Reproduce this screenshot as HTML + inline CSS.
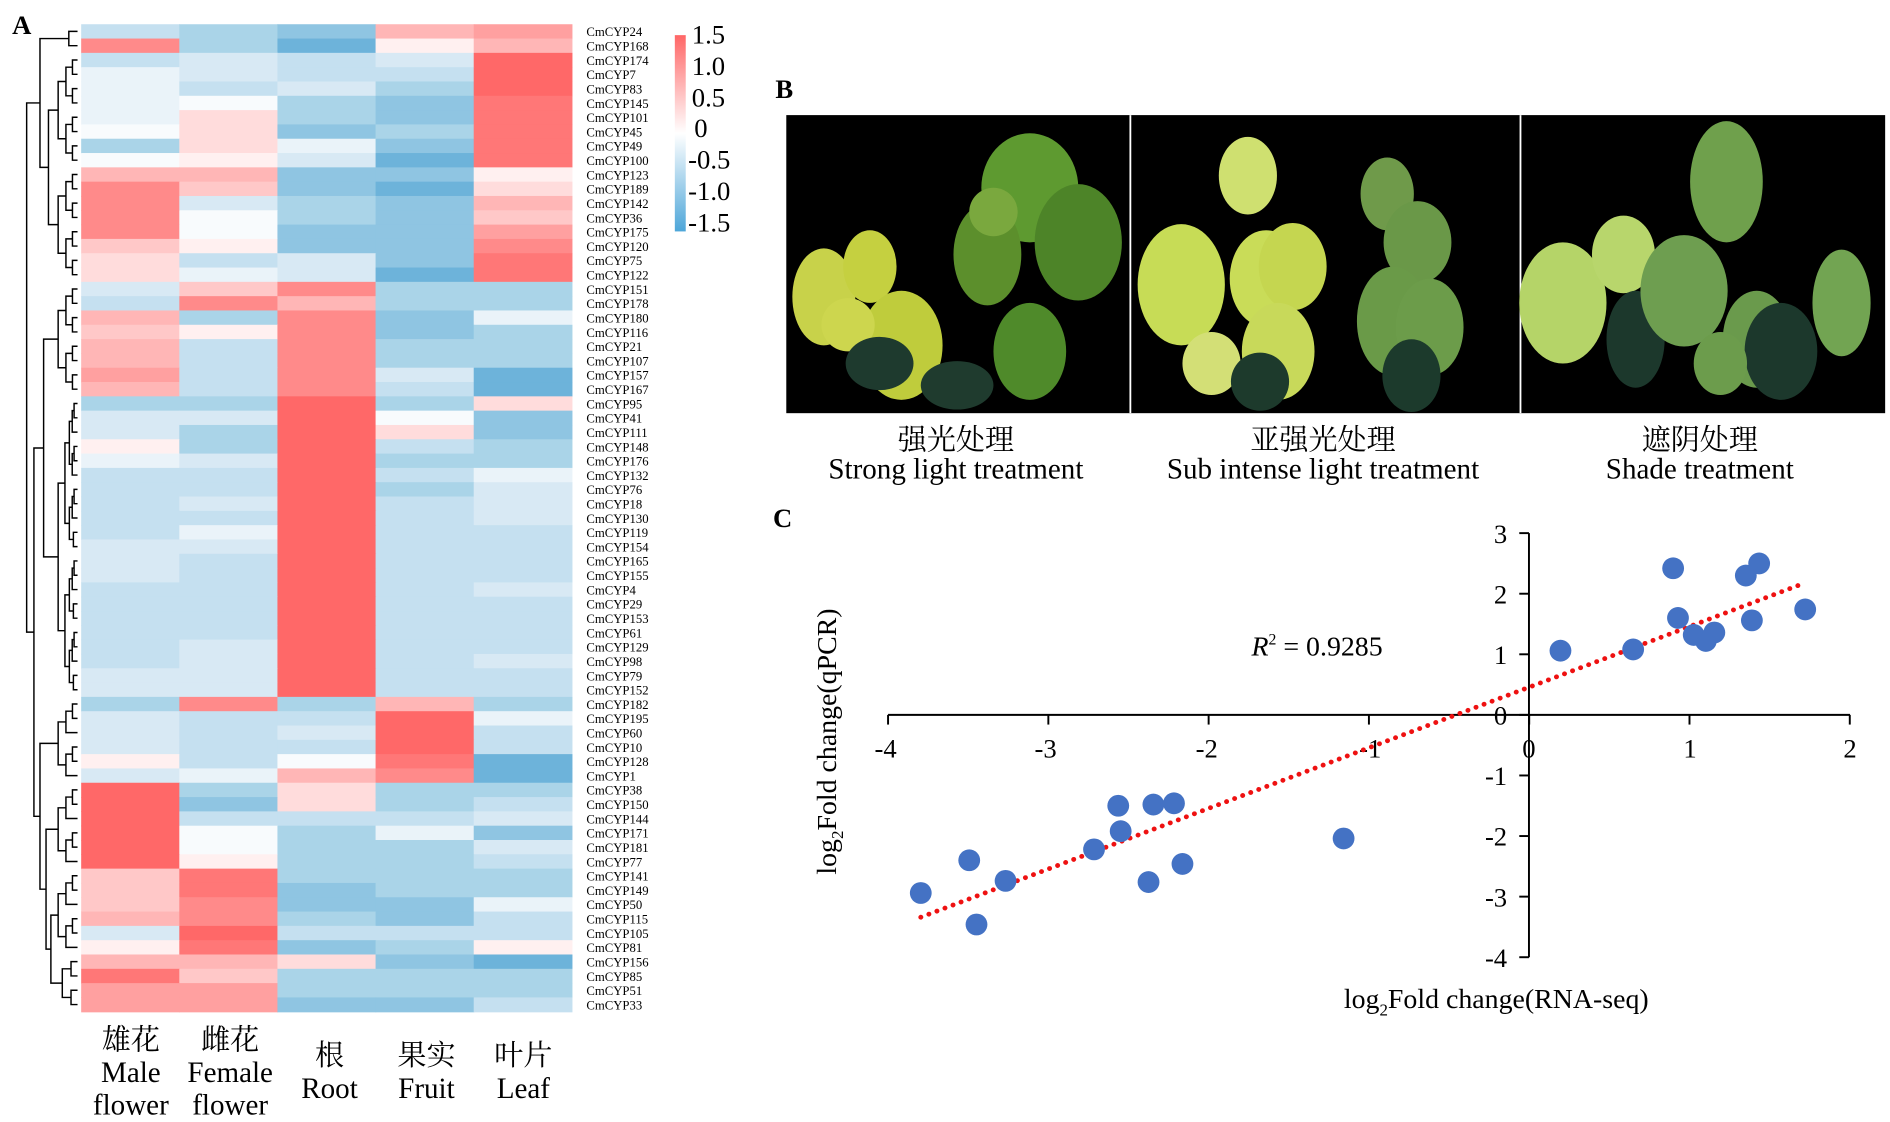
<!DOCTYPE html>
<html><head><meta charset="utf-8"><style>
html,body{margin:0;padding:0;background:#fff;}
svg{display:block;}
text{font-family:"Liberation Serif","Noto Serif CJK SC","Noto Sans CJK SC",serif;fill:#000;}
</style></head><body>
<svg id="s" width="1890" height="1122" viewBox="0 0 1560 926" preserveAspectRatio="none" xmlns="http://www.w3.org/2000/svg">
<defs>
<linearGradient id="cb" x1="0" y1="0" x2="0" y2="1">
<stop offset="0" stop-color="#ff6666"/><stop offset="0.5" stop-color="#ffffff"/><stop offset="1" stop-color="#4da6d9"/>
</linearGradient>
</defs>
<g id="hm"></g>
<g id="dg" stroke="#000" stroke-width="1.2" fill="none"></g>
<text x="10" y="28" font-size="22" font-weight="bold">A</text>
<rect x="557" y="29" width="9" height="162" fill="url(#cb)"/>
<g font-size="22">
<text x="571" y="36">1.5</text><text x="571" y="62">1.0</text><text x="571" y="88">0.5</text><text x="573" y="113">0</text>
<text x="568" y="139">-0.5</text><text x="568" y="165">-1.0</text><text x="568" y="191">-1.5</text>
</g>
<g font-size="24" text-anchor="middle">
<text x="108" y="866">雄花</text><text x="108" y="893">Male</text><text x="108" y="920">flower</text>
<text x="190" y="866">雌花</text><text x="190" y="893">Female</text><text x="190" y="920">flower</text>
<text x="272" y="879">根</text><text x="272" y="906">Root</text>
<text x="352" y="879">果实</text><text x="352" y="906">Fruit</text>
<text x="432" y="879">叶片</text><text x="432" y="906">Leaf</text>
</g>
<text x="640" y="81" font-size="22" font-weight="bold">B</text>
<g id="ph"></g>
<g font-size="24" text-anchor="middle">
<text x="789" y="371">强光处理</text><text x="789" y="395">Strong light treatment</text>
<text x="1092" y="371">亚强光处理</text><text x="1092" y="395">Sub intense light treatment</text>
<text x="1403" y="371">遮阴处理</text><text x="1403" y="395">Shade treatment</text>
</g>
<text x="638" y="435" font-size="22" font-weight="bold">C</text>
<g stroke="#000" stroke-width="1.6">
<line x1="733" y1="590" x2="1527" y2="590"/>
<line x1="1262" y1="440" x2="1262" y2="790"/>
</g>
<g id="ax" stroke="#000" stroke-width="1.6"></g>
<g font-size="22" text-anchor="middle">
<text x="731" y="625">-4</text><text x="863" y="625">-3</text><text x="996" y="625">-2</text><text x="1131" y="625">-1</text><text x="1262" y="625">0</text><text x="1395" y="625">1</text><text x="1527" y="625">2</text>
</g>
<g font-size="22" text-anchor="end">
<text x="1244" y="448">3</text><text x="1244" y="498">2</text><text x="1244" y="548">1</text><text x="1244" y="598">0</text>
<text x="1244" y="648">-1</text><text x="1244" y="698">-2</text><text x="1244" y="748">-3</text><text x="1244" y="798">-4</text>
</g>
<line x1="760" y1="757" x2="1490" y2="481" stroke="#ee1111" stroke-width="4" stroke-dasharray="0.1 7" stroke-linecap="round"/>
<g id="pts" fill="#4472c4"></g>
<text x="1033" y="541" font-size="23"><tspan font-style="italic">R</tspan><tspan font-size="13" dy="-9">2</tspan><tspan dy="9"> = 0.9285</tspan></text>
<text x="1235" y="832" font-size="23" text-anchor="middle">log<tspan font-size="14" dy="6">2</tspan><tspan dy="-6">Fold change(RNA-seq)</tspan></text>
<text transform="translate(690,612) rotate(-90)" font-size="23" text-anchor="middle">log<tspan font-size="14" dy="6">2</tspan><tspan dy="-6">Fold change(qPCR)</tspan></text>
</svg>
<script>
var NS="http://www.w3.org/2000/svg";
function el(p,t,a,txt){var e=document.createElementNS(NS,t);for(var k in a)e.setAttribute(k,a[k]);if(txt!=null)e.textContent=txt;p.appendChild(e);return e;}
var C={R3:"#ff6868",R7:"#ff7777",R2:"#ff8a8a",RA:"#ffa0a0",R1:"#ffb6b6",RC:"#ffc8c8",R0:"#ffdcdc",RW:"#fff0f0",W:"#f8fbfd",WE:"#eaf3f9",B0:"#d8e9f4",B1:"#c5e0f0",B2:"#aad4e8",B3:"#8fc5e2",B4:"#6db3da"};
var rows=[
["24","B1 B2 B3 R1 RA"],["168","R2 B2 B4 RW R1"],["174","B1 B0 B1 B0 R3"],["7","WE B0 B1 B1 R3"],["83","WE B1 B0 B2 R3"],
["145","WE W B2 B3 R7"],["101","WE R0 B2 B3 R7"],["45","W R0 B3 B2 R7"],["49","B2 R0 WE B3 R7"],["100","W RW B0 B4 R7"],
["123","R1 R1 B3 B3 RW"],["189","R2 RC B3 B4 R0"],["142","R2 B0 B2 B3 R1"],["36","R2 W B2 B3 RC"],["175","R2 W B3 B3 RA"],
["120","RC RW B3 B3 R2"],["75","R0 B1 B0 B3 R7"],["122","R0 WE B0 B4 R7"],["151","B0 RC R2 B2 B2"],["178","B1 R2 R1 B2 B2"],
["180","R1 B2 R2 B3 WE"],["116","RC RW R2 B3 B2"],["21","R1 B1 R2 B2 B2"],["107","R1 B1 R2 B2 B2"],["157","RA B1 R2 B0 B4"],
["167","R1 B1 R2 B1 B4"],["95","B2 B2 R3 B2 R0"],["41","B0 B0 R3 W B3"],["111","B0 B2 R3 R0 B3"],["148","RW B2 R3 B1 B2"],
["176","WE B0 R3 B2 B2"],["132","B1 B1 R3 B1 WE"],["76","B1 B1 R3 B2 B0"],["18","B1 B0 R3 B1 B0"],["130","B1 B1 R3 B1 B0"],
["119","B1 WE R3 B1 B1"],["154","B0 B0 R3 B1 B1"],["165","B0 B1 R3 B1 B1"],["155","B0 B1 R3 B1 B1"],["4","B1 B1 R3 B1 B0"],
["29","B1 B1 R3 B1 B1"],["153","B1 B1 R3 B1 B1"],["61","B1 B1 R3 B1 B1"],["129","B1 B0 R3 B1 B1"],["98","B1 B0 R3 B1 B0"],
["79","B0 B0 R3 B1 B1"],["152","B0 B0 R3 B1 B1"],["182","B2 R2 B2 R1 B2"],["195","B0 B1 B1 R3 WE"],["60","B0 B1 B0 R3 B1"],
["10","B0 B1 B1 R3 B1"],["128","RW B1 W R7 B4"],["1","B0 WE R1 R2 B4"],["38","R3 B2 R0 B2 B2"],["150","R3 B3 R0 B2 B1"],
["144","R3 B1 B1 B1 B0"],["171","R3 W B2 WE B3"],["181","R3 W B2 B2 B0"],["77","R3 RW B2 B2 B1"],["141","RC R7 B2 B2 B2"],
["149","RC R7 B3 B2 B2"],["50","RC R2 B3 B3 WE"],["115","R1 R2 B2 B3 B1"],["105","B0 R3 B1 B1 B1"],["81","RW R7 B3 B2 RW"],
["156","R1 R1 R0 B3 B4"],["85","R7 RC B2 B2 B2"],["51","RA RA B2 B2 B2"],["33","RA RA B3 B3 B1"]];
var hm=document.getElementById("hm");
var top0=20,bot=835,N=rows.length,rh=(bot-top0)/N,x0=67,cw=81;
rows.forEach(function(r,i){
 var cs=r[1].split(" ");
 for(var j=0;j<5;j++) el(hm,"rect",{x:x0+j*cw,y:(top0+i*rh).toFixed(2),width:cw+0.5,height:(rh+0.5).toFixed(2),fill:C[cs[j]]});
 el(hm,"text",{x:484,y:(top0+i*rh+rh/2+4).toFixed(2),"font-size":"10.5"},"CmCYP"+r[0]);
});
// dendrogram
var dg=document.getElementById("dg");
function yc(i){return top0+i*rh+rh/2;}
var groups=[[0,1],[2,9],[10,17],[18,25],[26,46],[47,52],[53,58],[59,64],[65,68]];
function tree(a,b,xl,xr){ // returns [x,y]
 if(a==b) return [64,yc(a)];
 var m=Math.floor((a+b)/2);
 var xm=xl+(xr-xl)*0.35;
 var L=tree(a,m,xm,xr),R=tree(m+1,b,xm,xr);
 var x=Math.min(L[0],R[0])-(xr-xm)*0.5-2;
 if(x<xl)x=xl;
 el(dg,"path",{d:"M"+L[0]+" "+L[1]+"H"+x+"V"+R[1]+"H"+R[0]});
 return [x,(L[1]+R[1])/2];
}
var gp=groups.map(function(g){return tree(g[0],g[1],48,64);});
function join(p,q,x){el(dg,"path",{d:"M"+p[0]+" "+p[1]+"H"+x+"V"+q[1]+"H"+q[0]});return [x,(p[1]+q[1])/2];}
var a=join(gp[1],gp[2],40); a=join(gp[0],a,33);
var b=join(gp[3],gp[4],36);
var c=join(gp[7],gp[8],42); c=join(gp[6],c,38); var d=join(gp[5],c,33);
var e=join(b,d,28); join(a,e,22);
// axis ticks
var ax=document.getElementById("ax");
for(var k=0;k<7;k++){var x=733+k*132.3;el(ax,"line",{x1:x,y1:590,x2:x,y2:598});}
for(var k=0;k<8;k++){var y=440+k*50;el(ax,"line",{x1:1254,y1:y,x2:1262,y2:y});}
var P=[[760,737],[800,710],[806,763],[830,727],[903,701],[923,665],[925,686],[952,664],[969,663],[948,728],[976,713],[1109,692],[1288,537],[1348,536],[1381,469],[1385,510],[1398,524],[1408,529],[1415,522],[1441,475],[1452,465],[1446,512],[1490,503]];
var pts=document.getElementById("pts");
P.forEach(function(p){el(pts,"circle",{cx:p[0],cy:p[1],r:9});});
// photos
var ph=document.getElementById("ph");
el(ph,"rect",{x:649,y:95,width:907,height:246,fill:"#000"});
el(ph,"line",{x1:933,y1:95,x2:933,y2:341,stroke:"#fff","stroke-width":1.5});
el(ph,"line",{x1:1255,y1:95,x2:1255,y2:341,stroke:"#fff","stroke-width":1.5});
var leaves=[
[680,245,26,40,"#c8d24a"],[718,220,22,30,"#c5d040"],[744,285,34,45,"#bfcc3c"],[700,268,22,22,"#cdd64e"],
[850,155,40,45,"#5e9a30"],[815,210,28,42,"#5c8f2c"],[890,200,36,48,"#4d8428"],[850,290,30,40,"#4f8a2a"],[820,175,20,20,"#7aa83e"],
[726,300,28,22,"#1e3a2e"],[790,318,30,20,"#1f3b2e"],
[975,235,36,50,"#c7dc56"],[1045,230,30,40,"#c9dc58"],[1030,145,24,32,"#cfe070"],[1067,220,28,36,"#c5d650"],[1055,290,30,40,"#c8d95a"],[1000,300,24,26,"#d3df76"],
[1145,160,22,30,"#6f9a4a"],[1170,200,28,34,"#6a9848"],[1150,265,30,45,"#6a9a48"],[1180,270,28,40,"#6c9c4a"],[1165,310,24,30,"#1c3a2c"],[1040,315,24,24,"#1d3a2c"],
[1290,250,36,50,"#b5d468"],[1340,210,26,32,"#b8d66c"],[1350,280,24,40,"#1c382c"],
[1425,150,30,50,"#6fa04c"],[1390,240,36,46,"#6e9e50"],[1450,280,28,40,"#6a9a4c"],[1520,250,24,44,"#72a452"],[1470,290,30,40,"#1c382c"],[1420,300,22,26,"#6c9c4c"]];
leaves.forEach(function(l){el(ph,"ellipse",{cx:l[0],cy:l[1],rx:l[2],ry:l[3],fill:l[4]});});
</script>
</body></html>
